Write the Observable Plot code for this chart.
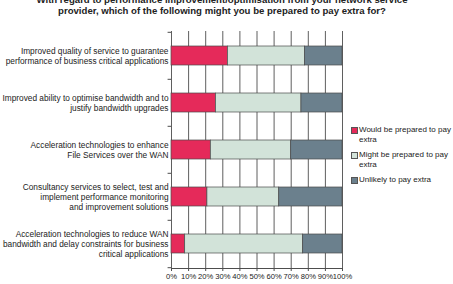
<!DOCTYPE html>
<html>
<head>
<meta charset="utf-8">
<script src="https://cdn.jsdelivr.net/npm/d3@7"></script>
<script src="https://cdn.jsdelivr.net/npm/@observablehq/plot@0.6"></script>
<style>
  body { margin: 0; background: #fff; }
  #wrap { position: relative; width: 453px; height: 284px; overflow: hidden; font-family: "Liberation Sans", Arial, sans-serif; color: #222; }
  #wrap svg { position: absolute; left: 0; top: 0; }
  .title { position: absolute; left: 0; width: 444px; text-align: center; font-weight: bold; font-size: 9.6px; line-height: 12px; }
  .legend { position: absolute; left: 351px; top: 125px; font-size: 8px; line-height: 9.5px; }
  .legend .item { position: relative; padding-left: 8px; margin-bottom: 6px; }
  .legend .sw { position: absolute; left: 0; top: 2px; width: 5px; height: 5px; border: 0.8px solid #555; }
</style>
</head>
<body>
<div id="wrap"></div>
<script>
// Survey answers: share of respondents (%) per improvement option
const categories = [
  "Improved quality of service to guarantee\nperformance of business critical applications",
  "Improved ability to optimise bandwidth and to\njustify bandwidth upgrades",
  "Acceleration technologies to enhance\nFile Services over the WAN",
  "Consultancy services to select, test and\nimplement performance monitoring\nand improvement solutions",
  "Acceleration technologies to reduce WAN\nbandwidth and delay constraints for business\ncritical applications"
];
const wouldPay = [33, 26, 23, 21, 8];
const mightPay = [45, 50, 47, 42, 69];
const unlikelyPay = [22, 24, 30, 37, 23];
const seriesNames = ["Would be prepared to pay extra", "Might be prepared to pay extra", "Unlikely to pay extra"];
const legendLabels = [["Would be prepared to pay", "extra"], ["Might be prepared to pay", "extra"], ["Unlikely to pay extra"]];
const seriesColors = ["#e52a5a", "#d2e3d9", "#6b808d"];
const xTicks = [0, 10, 20, 30, 40, 50, 60, 70, 80, 90, 100];
const titleLines = [
  "With regard to performance improvement/optimisation from your network service",
  "provider, which of the following might you be prepared to pay extra for?"
];

const seriesValues = [wouldPay, mightPay, unlikelyPay];
const rows = seriesNames.flatMap((s, i) =>
  categories.map((c, j) => ({category: c, series: s, value: seriesValues[i][j]}))
);

const marginTop = 31, marginBottom = 16, height = 284;
const step = (height - marginTop - marginBottom) / categories.length;

const chart = Plot.plot({
  width: 453,
  height,
  marginLeft: 171,
  marginRight: 111,
  marginTop,
  marginBottom,
  style: {fontFamily: "'Liberation Sans', Arial, sans-serif", fontSize: "8px", color: "#222", background: "transparent"},
  x: {domain: [0, 100]},
  y: {domain: categories, paddingInner: 0.6, paddingOuter: 0.3},
  color: {domain: seriesNames, range: seriesColors},
  marks: [
    Plot.gridX(xTicks, {stroke: "#4d4d4d", strokeOpacity: 1, strokeWidth: 0.9}),
    Plot.frame({anchor: "bottom", stroke: "#4d4d4d"}),
    Plot.axisX({ticks: xTicks, tickFormat: d => d + "%", tickSize: 3, tickPadding: 2, stroke: "#4d4d4d", fontSize: 7.6, label: null}),
    // short ticks on the category axis at the band boundaries
    Plot.ruleY(categories, {x1: -2, x2: 0, dy: -step / 2, stroke: "#4d4d4d"}),
    Plot.ruleY(categories.slice(-1), {x1: -2, x2: 0, dy: step / 2, stroke: "#4d4d4d"}),
    Plot.barX(rows, Plot.stackX({y: "category", x: "value", fill: "series", stroke: "#4a4a4a", strokeWidth: 0.7})),
    Plot.axisY({tickSize: 0, tickPadding: 3, fontSize: 8.3, lineHeight: 1.22, label: null})
  ]
});

const wrap = document.getElementById("wrap");
wrap.appendChild(chart);

titleLines.forEach((t, i) => {
  const d = document.createElement("div");
  d.className = "title";
  d.style.top = (-6.5 + i * 11.5) + "px";
  d.textContent = t;
  wrap.appendChild(d);
});

const legend = document.createElement("div");
legend.className = "legend";
legendLabels.forEach((lines, i) => {
  const item = document.createElement("div");
  item.className = "item";
  const sw = document.createElement("span");
  sw.className = "sw";
  sw.style.background = seriesColors[i];
  item.appendChild(sw);
  lines.forEach((line, k) => {
    if (k) item.appendChild(document.createElement("br"));
    item.appendChild(document.createTextNode(line));
  });
  legend.appendChild(item);
});
wrap.appendChild(legend);
</script>
</body>
</html>
